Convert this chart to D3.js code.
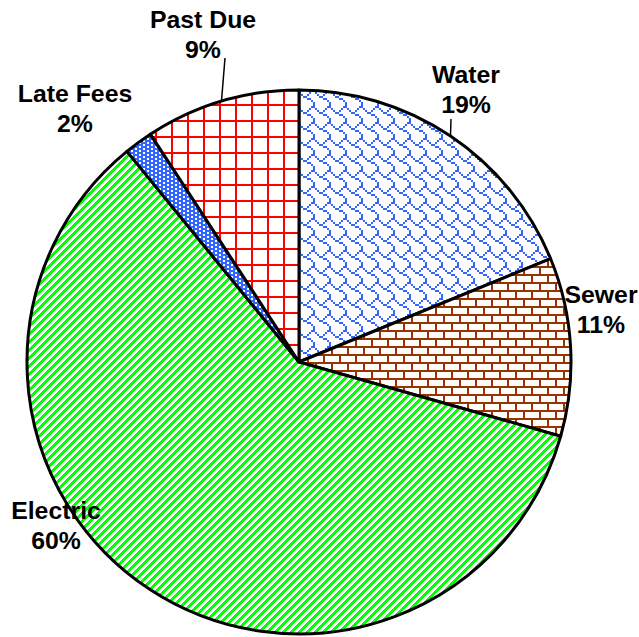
<!DOCTYPE html>
<html>
<head>
<meta charset="utf-8">
<script src="https://cdn.jsdelivr.net/npm/d3@7"></script>
<style>
  html, body { margin: 0; padding: 0; background: #fff; }
  svg { display: block; }
  text { font-family: "Liberation Sans", Arial, sans-serif; font-weight: bold; fill: #000; }
</style>
</head>
<body>
<svg id="chart" width="639" height="637"></svg>
<script>
// ---- data ----
const categories = ["Water", "Sewer", "Electric", "Late Fees", "Past Due"];
const values = [18.8, 10.6, 59.7, 1.7, 9.2];
const percentLabels = ["19%", "11%", "60%", "2%", "9%"];

// ---- layout / style ----
const W = 639, H = 637;
const cx = 299, cy = 362, R = 272;
const svg = d3.select("#chart");
const defs = svg.append("defs");

// bitmap patterns (8x8 bits, each bit drawn as s x s px)
function bitmapPattern(id, rows, fg, bg, s) {
  const n = 8 * s;
  const p = defs.append("pattern").attr("id", id)
    .attr("patternUnits", "userSpaceOnUse").attr("width", n).attr("height", n);
  p.append("rect").attr("width", n).attr("height", n).attr("fill", bg);
  rows.forEach((b, r) => {
    for (let c = 0; c < 8; c++) {
      if (b & (0x80 >> c)) {
        p.append("rect").attr("x", c * s).attr("y", r * s)
          .attr("width", s).attr("height", s).attr("fill", fg)
          .attr("shape-rendering", "crispEdges");
      }
    }
  });
}
bitmapPattern("pWater", [0x03, 0x84, 0x48, 0x30, 0x0c, 0x02, 0x01, 0x01], "#3366ff", "#fff", 2);
bitmapPattern("pSewer", [0xff, 0x80, 0x80, 0x80, 0xff, 0x08, 0x08, 0x08], "#993300", "#fff", 2);
bitmapPattern("pPast", [0x80, 0x80, 0x80, 0x80, 0x80, 0x80, 0x80, 0xff], "#ff0000", "#fff", 2);
bitmapPattern("pLate", [0x88, 0x22, 0x88, 0x22, 0x88, 0x22, 0x88, 0x22], "#ffffff", "#3366ff", 2);
bitmapPattern("pElec", [0x0f, 0x1e, 0x3c, 0x78, 0xf0, 0xe1, 0xc3, 0x87], "#00ff00", "#fff", 1);
const fills = { "Water": "url(#pWater)", "Sewer": "url(#pSewer)", "Electric": "url(#pElec)", "Late Fees": "url(#pLate)", "Past Due": "url(#pPast)" };

const data = categories.map((c, i) => ({ cat: c, value: values[i], label: percentLabels[i] }));
const pie = d3.pie().sort(null).value(d => d.value).startAngle(0).endAngle(2 * Math.PI);
const arcs = pie(data);
const arc = d3.arc().innerRadius(0).outerRadius(R);

const g = svg.append("g").attr("transform", `translate(${cx},${cy})`);
g.selectAll("path.slice").data(arcs).join("path")
  .attr("class", "slice")
  .attr("d", arc)
  .attr("fill", d => fills[d.data.cat])
  .attr("stroke", "#000").attr("stroke-width", 3).attr("stroke-linejoin", "round");

// labels (positions in page coords: center x, first baseline)
const labelPos = {
  "Water":     { x: 466, y: 83,  leader: [451, 119] },
  "Sewer":     { x: 601, y: 303 },
  "Electric":  { x: 56,  y: 519 },
  "Late Fees": { x: 75,  y: 102 },
  "Past Due":  { x: 203, y: 28,  leader: [225, 58] }
};
const lineH = 30, sx = 1.08, fs = 23;
arcs.forEach(a => {
  const lp = labelPos[a.data.cat];
  if (lp.leader) {
    const mid = (a.startAngle + a.endAngle) / 2;
    const ex = cx + R * Math.sin(mid), ey = cy - R * Math.cos(mid);
    svg.append("line").attr("x1", lp.leader[0]).attr("y1", lp.leader[1])
      .attr("x2", ex).attr("y2", ey).attr("stroke", "#000").attr("stroke-width", 1.5);
  }
  [a.data.cat, a.data.label].forEach((t, i) => {
    svg.append("text")
      .attr("transform", `translate(${lp.x},${lp.y + i * lineH}) scale(${sx},1)`)
      .attr("text-anchor", "middle")
      .attr("font-size", fs)
      .text(t);
  });
});
</script>
</body>
</html>
